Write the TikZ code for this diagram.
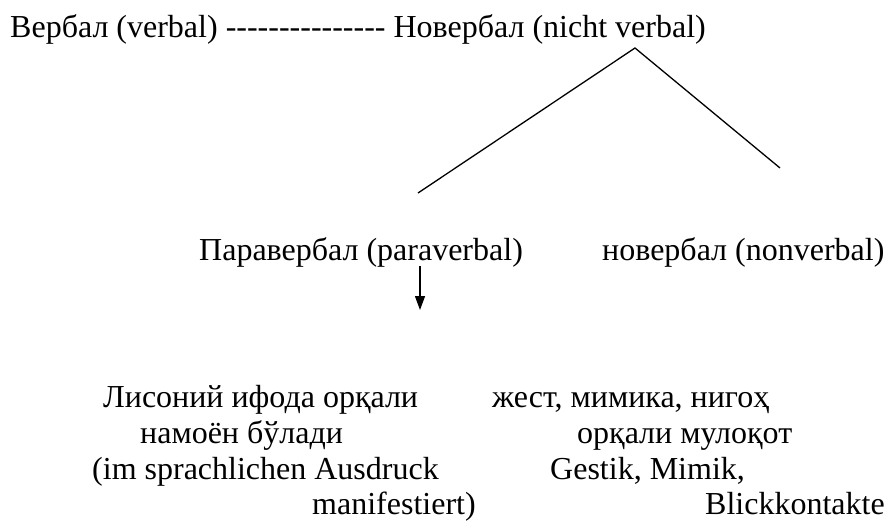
\documentclass[tikz,border=0pt]{standalone}
\usepackage{fontspec}
\setmainfont{Liberation Serif}
\usetikzlibrary{arrows.meta}
\begin{document}
\begin{tikzpicture}[x=1pt,y=-1pt,
  txt/.style={anchor=base west,inner sep=0pt,font=\fontsize{32}{36}\selectfont},
  ln/.style={line width=1.3pt}]
\useasboundingbox (0,0) rectangle (885,521);
\node[txt] (top) at (10,38) {Вербал (verbal) -{}-{}-{}-{}-{}-{}-{}-{}-{}-{}-{}-{}-{}-{}- Новербал (nicht verbal)};
\coordinate (apex) at (635,48);
\coordinate (lend) at (418,193);
\coordinate (rend) at (780,168);
\draw[ln] (lend) -- (apex) -- (rend);
\node[txt] (para) at (199,260) {Паравербал (paraverbal)};
\node[txt] (nonv) at (602,260) {новербал (nonverbal)};
\coordinate (astart) at (420,266);
\coordinate (aend) at (420,310);
\draw[ln,-{Triangle[length=14pt,width=10pt]}] (astart) -- (aend);
\node[txt] (l1) at (103,407) {Лисоний ифода орқали};
\node[txt] (l2) at (140,443) {намоён бўлади};
\node[txt] (l3) at (92,479) {(im sprachlichen Ausdruck};
\node[txt] (l4) at (312,514) {manifestiert)};
\node[txt] (r1) at (492,407) {жест, мимика, нигоҳ};
\node[txt] (r2) at (577,443) {орқали мулоқот};
\node[txt] (r3) at (550,479) {Gestik, Mimik,};
\node[txt] (r4) at (705,514) {Blickkontakte};
\end{tikzpicture}
\end{document}
